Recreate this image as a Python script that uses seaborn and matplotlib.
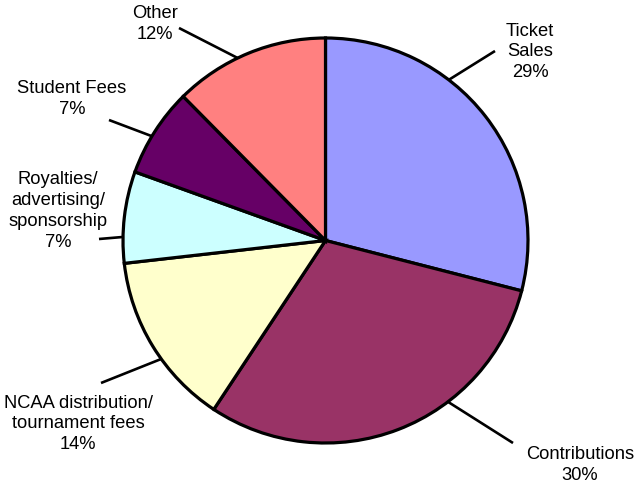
import numpy as np
import matplotlib
matplotlib.use("Agg")
import matplotlib.pyplot as plt
import seaborn as sns

categories = ["Ticket\nSales", "Contributions", "NCAA distribution/\ntournament fees",
              "Royalties/\nadvertising/\nsponsorship", "Student Fees", "Other"]
values = [29.0, 30.3, 13.9, 7.3, 7.1, 12.4]
colors = ["#9999FF", "#993366", "#FFFFCC", "#CCFFFF", "#660066", "#FF8080"]

sns.set_theme(style="white")
plt.rcParams['font.family'] = ['Liberation Sans', 'DejaVu Sans']

W, H = 636, 485
fig = plt.figure(figsize=(W / 100, H / 100), dpi=100)
ax = fig.add_axes([0, 0, 1, 1])

cx, cy, r = 325.5, H - 241.5, 202.5
wedges, _ = ax.pie(values, colors=colors, startangle=90, counterclock=False,
                   center=(cx, cy), radius=r,
                   wedgeprops=dict(edgecolor="black", linewidth=2.3))
ax.set_xlim(0, W)
ax.set_ylim(0, H)
ax.set_aspect("equal")
ax.axis("off")

# label layout: (anchor angle on rim in degrees, line end (px), text centre (px))
layout = [
    (52.5, (495, 52), (530, 52)),
    (-52.8, (513, 444), (580, 465)),
    (215.8, (101, 384), (78, 424)),
    (179.0, (99, 240), (58, 211)),
    (149.0, (109, 121), (72, 99)),
    (115.7, (179, 29), (155, 24)),
]
total = sum(values)
for cat, v, (ang, lend, tpos) in zip(categories, values, layout):
    a = np.deg2rad(ang)
    x0, y0 = cx + r * np.cos(a), cy + r * np.sin(a)
    ax.plot([x0, lend[0]], [y0, H - lend[1]], color="black", lw=1.9,
            solid_capstyle="butt", zorder=0)
    ax.text(tpos[0], H - tpos[1], f"{cat}\n{round(v / total * 100):.0f}%",
            ha="center", va="center", fontsize=13.2, linespacing=1.3,
            color="black")

fig.savefig("out.png", dpi=100)
